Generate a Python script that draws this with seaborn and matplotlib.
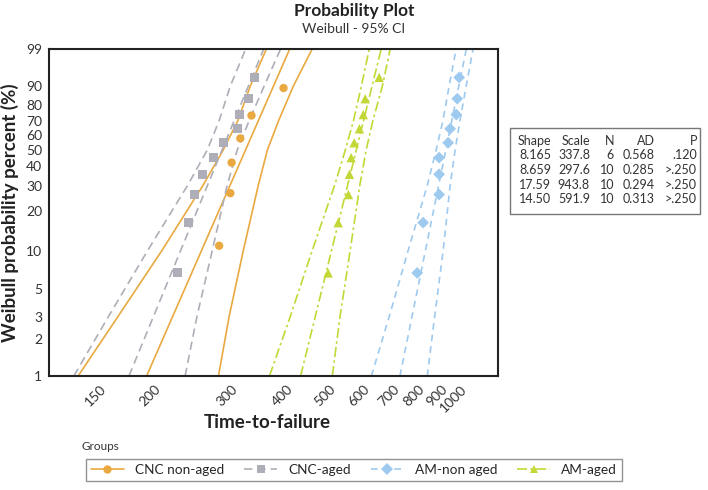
"""
Weibull probability plot (95% CI) of time-to-failure for four groups.
"""

import numpy as np
import pandas as pd
import matplotlib
matplotlib.use('Agg')
import matplotlib.pyplot as plt
from matplotlib.lines import Line2D
from matplotlib.patches import Rectangle
import seaborn as sns

# -- data --
groups = ['CNC non-aged', 'CNC-aged', 'AM-non aged', 'AM-aged']

# plotting positions (%) of the points
pct_n6 = [10.9, 26.6, 42.2, 57.8, 73.4, 89.1]
pct_n10 = [6.7, 16.3, 26.0, 35.6, 45.2, 54.8, 64.4, 74.0, 83.7, 93.3]

t_cnc_non = [281, 298, 300, 314, 333, 394]
t_cnc_aged = [226, 239, 247, 257, 273, 287, 309, 313, 328, 338]
t_am_non = [795, 820, 892, 892, 892, 935, 945, 976, 981, 991]
t_am_aged = [498, 525, 554, 557, 562, 571, 587, 599, 605, 651]

# fitted line, time at 1 % and 99 %
fit_pct = [1, 99]
fit_cnc_non = [192, 407]
fit_cnc_aged = [175, 355]
fit_am_non = [726, 1029]
fit_am_aged = [431, 658]

# 95% confidence bounds, time at these percents
ci_pct = [1, 3, 10, 30, 50, 70, 90, 99]
lo_cnc_non = [134, 165, 208, 258, 287, 310, 331, 360]
hi_cnc_non = [280, 296, 319, 345, 362, 384, 415, 458]
lo_cnc_aged = [131, 157, 193, 238, 264, 281, 298, 323]
hi_cnc_aged = [235, 250, 271, 293, 309, 329, 356, 388]
lo_am_non = [625, 686, 758, 838, 878, 910, 940, 975]
hi_am_non = [838, 871, 911, 945, 970, 995, 1028, 1066]
lo_am_aged = [366, 408, 458, 515, 545, 569, 593, 618]
hi_am_aged = [509, 530, 559, 588, 608, 630, 662, 690]

# summary table
tab_shape = ['8.165', '8.659', '17.59', '14.50']
tab_scale = ['337.8', '297.6', '943.8', '591.9']
tab_n = ['6', '10', '10', '10']
tab_ad = ['0.568', '0.285', '0.294', '0.313']
tab_p = ['.120', '>.250', '>.250', '>.250']

y_ticks = [1, 2, 3, 5, 10, 20, 30, 40, 50, 60, 70, 80, 90, 99]
x_ticks = [150, 200, 300, 400, 500, 600, 700, 800, 900, 1000]

# -- style --
colors = {'CNC non-aged': '#E9A940', 'CNC-aged': '#AEAEB8',
          'AM-non aged': '#9FCAEF', 'AM-aged': '#C3D836'}
markers = {'CNC non-aged': 'o', 'CNC-aged': 's', 'AM-non aged': 'D', 'AM-aged': '^'}
dashes = {'CNC non-aged': (None, None), 'CNC-aged': (5, 3),
          'AM-non aged': (4, 3), 'AM-aged': (6, 2, 1.5, 2)}
msize = {'CNC non-aged': 36, 'CNC-aged': 42, 'AM-non aged': 36, 'AM-aged': 46}

sns.set_theme(style='white')
plt.rcParams['font.family'] = ['Lato', 'DejaVu Sans']

pts = pd.concat([
    pd.DataFrame({'group': 'CNC non-aged', 'time': t_cnc_non, 'pct': pct_n6}),
    pd.DataFrame({'group': 'CNC-aged', 'time': t_cnc_aged, 'pct': pct_n10}),
    pd.DataFrame({'group': 'AM-non aged', 'time': t_am_non, 'pct': pct_n10}),
    pd.DataFrame({'group': 'AM-aged', 'time': t_am_aged, 'pct': pct_n10}),
], ignore_index=True)

fits = {'CNC non-aged': fit_cnc_non, 'CNC-aged': fit_cnc_aged,
        'AM-non aged': fit_am_non, 'AM-aged': fit_am_aged}
bounds = {'CNC non-aged': (lo_cnc_non, hi_cnc_non), 'CNC-aged': (lo_cnc_aged, hi_cnc_aged),
          'AM-non aged': (lo_am_non, hi_am_non), 'AM-aged': (lo_am_aged, hi_am_aged)}


def weib_fwd(p):
    p = np.clip(np.asarray(p, dtype=float), 1e-6, 100 - 1e-6)
    return np.log(-np.log(1 - p / 100.0))


def weib_inv(z):
    return 100.0 * (1 - np.exp(-np.exp(np.asarray(z, dtype=float))))


fig = plt.figure(figsize=(7.08, 4.9), dpi=100)
ax = fig.add_axes([49 / 708, 1 - 376 / 490, 449 / 708, 327 / 490])
ax.set_xscale('log')
ax.set_yscale('function', functions=(weib_fwd, weib_inv))

for g in groups:
    c = colors[g]
    lo, hi = bounds[g]
    for xs, ys in [(fits[g], fit_pct), (lo, ci_pct), (hi, ci_pct)]:
        ln, = ax.plot(xs, ys, color=c, lw=1.2)
        if dashes[g][0] is not None:
            ln.set_dashes(dashes[g])

sns.scatterplot(data=pts, x='time', y='pct', hue='group', style='group',
                palette=colors, markers=markers, size='group', sizes=msize,
                linewidth=0, legend=False, ax=ax, zorder=5)

ax.set_xlim(115, 1215)
ax.set_ylim(1, 99)
ax.set_xticks(x_ticks)
ax.set_xticklabels([str(v) for v in x_ticks], rotation=45, ha='right',
                   va='top', rotation_mode='anchor')
ax.xaxis.set_minor_locator(matplotlib.ticker.NullLocator())
ax.set_yticks(y_ticks)
ax.set_yticklabels([str(v) for v in y_ticks])
ax.yaxis.set_minor_locator(matplotlib.ticker.NullLocator())
ax.tick_params(axis='both', direction='in', length=6, width=1.4,
               labelsize=10, labelcolor='#333333', color='#222222', pad=5)
for s in ax.spines.values():
    s.set_color('#222222')
    s.set_linewidth(1.5)

ax.set_xlabel('Time-to-failure', fontsize=13.5, fontweight='bold', color='#222222')
ax.xaxis.set_label_coords((267 - 49) / 449, (376 - 414) / 327)
ax.set_ylabel('Weibull probability percent (%)', fontsize=13.5,
              fontweight='bold', color='#222222')
ax.yaxis.set_label_coords((19 - 49) / 449, 0.5)

fig.text(354 / 708, 1 - 11 / 490, 'Probability Plot', ha='center', va='center',
         fontsize=12.5, fontweight='bold', color='#222222')
fig.text(354 / 708, 1 - 29 / 490, 'Weibull - 95% CI', ha='center', va='center',
         fontsize=10, color='#333333')

# summary table
fig.patches.append(Rectangle((510 / 708, 1 - 214 / 490), 190 / 708, 86 / 490,
                             transform=fig.transFigure, fill=False,
                             edgecolor='#777777', lw=1))
col_right = [551, 590, 614, 655, 697]
row_y = [141, 155, 170, 185, 199]
columns = [['Shape'] + tab_shape, ['Scale'] + tab_scale, ['N'] + tab_n,
           ['AD'] + tab_ad, ['P'] + tab_p]
for xr, col in zip(col_right, columns):
    for yr, txt in zip(row_y, col):
        fig.text(xr / 708, 1 - yr / 490, txt, ha='right', va='center',
                 fontsize=9, color='#333333')

# legend
handles = []
for g in groups:
    h = Line2D([], [], color=colors[g], lw=1.2, marker=markers[g],
               markersize=6, markeredgewidth=0)
    if dashes[g][0] is not None:
        h.set_dashes(dashes[g])
    handles.append(h)
fig.text(82 / 708, 1 - 447 / 490, 'Groups', ha='left', va='center',
         fontsize=8.5, color='#333333')
leg = fig.legend(handles, groups, ncol=4, loc='center',
                 bbox_to_anchor=(354 / 708, 1 - 470 / 490), frameon=True,
                 fancybox=False, edgecolor='#777777', fontsize=9.8,
                 handlelength=2.4, columnspacing=1.5, borderpad=0.4)
leg.get_frame().set_linewidth(1)

fig.savefig('out.png', dpi=100)
